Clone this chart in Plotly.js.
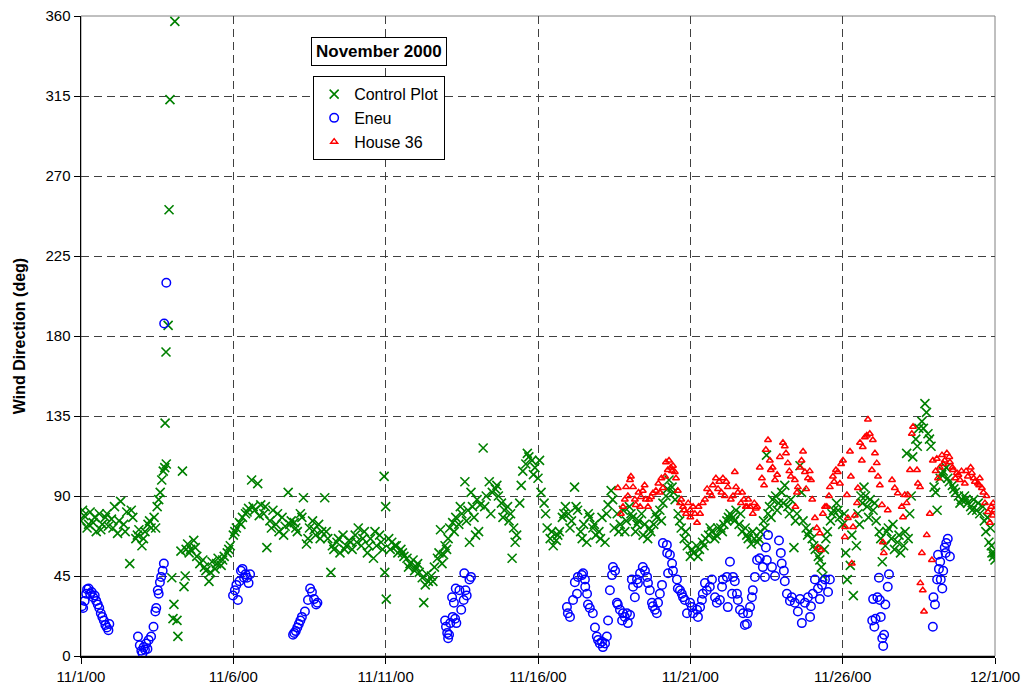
<!DOCTYPE html>
<html>
<head>
<meta charset="utf-8">
<script src="https://cdn.plot.ly/plotly-3.0.1.min.js"></script>
<style>
html,body{margin:0;padding:0;background:#fff;}
#chart{width:1029px;height:698px;}
</style>
</head>
<body>
<div id="chart"></div>
<script>
// Days since 11/1/00 00:00 and wind direction in degrees
var ctrlDay = [
0,0.1,0.2,0.3,0.4,0.5,0.6,0.7,0.8,0.9,
1,1.1,1.2,1.3,1.4,1.5,1.6,1.7,1.8,1.9,
2,2.1,2.2,2.3,2.4,2.5,2.6,2.65,2.7,2.8,
2.76,2.79,2.86,2.89,2.92,3.08,
2.98,3.02,3.05,3.15,3.18,3.28,3.33,3.38,3.42,
3.5,3.6,3.7,3.8,3.9,4,4.1,4.2,4.3,4.4,4.5,4.6,4.7,4.8,4.9,
3.55,3.75,4.05,4.25,4.45,4.65,4.85,
5,5.1,5.2,5.3,5.4,5.5,5.6,5.7,5.8,5.9,
6,6.1,6.2,6.3,6.4,6.5,6.6,6.7,6.8,6.9,
7,7.1,7.2,7.3,7.4,7.5,7.6,7.7,7.8,7.9,
8,8.1,8.2,8.3,8.4,8.5,8.6,8.7,8.8,8.9,
9,9.1,9.2,9.3,9.4,9.5,9.6,9.7,9.8,9.9,
9.95,9.97,10,10.02,
10.1,10.2,10.3,10.4,10.5,10.6,10.7,10.8,10.9,
11,11.1,11.2,11.25,11.3,11.4,11.5,11.6,11.7,11.8,11.85,11.9,
12,12.1,12.2,12.3,12.4,12.5,12.6,12.7,12.75,12.8,12.9,12.95,
13,13.1,13.2,13.3,13.4,13.5,13.6,13.7,13.8,13.9,
14,14.1,14.15,14.2,14.3,14.4,14.5,14.6,14.7,14.8,14.9,
15,15.1,15.2,15.3,15.4,15.5,15.6,15.7,15.8,15.9,
16,16.1,16.2,16.3,16.4,16.5,16.6,16.7,16.8,16.9,
17,17.1,17.2,17.3,17.4,17.5,17.6,17.7,17.8,17.9,
18,18.1,18.2,18.3,18.4,18.5,18.6,18.7,18.8,18.9,
19,19.1,19.2,19.3,19.4,19.5,19.6,19.7,19.8,19.9,
20,20.1,20.2,20.3,20.4,20.5,20.6,20.7,20.8,20.9,
21,21.1,21.2,21.3,21.4,21.5,21.6,21.7,21.8,21.9,
22,22.1,22.2,22.3,22.4,22.5,22.55,22.6,22.7,22.8,22.9,
23,23.1,23.2,23.3,23.4,23.5,23.6,23.7,23.8,23.9,
24,24.1,24.2,24.3,24.35,24.4,24.5,24.6,24.7,24.8,24.9,
25,25.1,25.15,25.25,25.3,25.35,25.45,25.5,25.6,25.7,25.8,25.9,
26,26.1,26.2,26.3,26.4,26.5,26.6,26.7,26.8,26.9,
27,27.1,27.15,27.2,27.3,27.4,27.5,27.6,27.7,27.75,27.8,27.9,
28,28.1,28.2,28.3,28.4,28.5,28.6,28.7,28.8,28.9,
29,29.1,29.2,29.3,29.4,29.5,29.6,29.7,29.75,29.8,29.85,29.9,29.95,29.97,30,
0.05,0.25,0.45,0.65,0.85,
1.05,1.25,1.45,1.65,1.85,
2.05,2.25,2.45,2.55,2.75,3.45,
5.05,5.25,5.45,5.65,5.85,
6.05,6.25,6.45,6.65,6.85,
7.05,7.25,7.45,7.65,7.85,
8.05,8.25,8.45,8.65,8.85,
9.05,9.25,9.45,9.65,9.85,
10.15,10.35,10.55,10.75,10.95,
11.05,11.35,11.55,11.75,11.95,
12.05,12.25,12.45,12.65,12.85,
13.05,13.25,13.45,13.65,13.85,
14.05,14.25,14.45,14.65,14.85,
15.05,15.25,15.45,15.65,15.85,
16.05,16.25,16.45,16.65,16.85,
17.05,17.25,17.45,17.65,17.85,
18.05,18.25,18.45,18.65,18.85,
19.05,19.25,19.45,19.65,19.85,
20.05,20.25,20.45,20.65,20.85,
21.05,21.25,21.45,21.65,21.85,
22.05,22.25,22.45,22.65,22.85,
23.05,23.25,23.45,23.65,23.85,
24.05,24.25,24.45,24.65,24.85,
25.05,25.55,25.65,25.75,25.85,
26.05,26.25,26.45,26.65,26.85,
27.05,27.25,27.45,27.65,27.85,
28.05,28.25,28.45,28.65,28.85,
29.05,29.25,29.45,29.65,29.88
];
var ctrlDeg = [
76,79,72,81,75,70,80,74,78,73,
77,84,69,87,74,81,52,78,66,71,
62,70,74,72,78,84,92,99,104,108,
131,171,186,251,313,357,
44,21,29,20,11,59,104,39,45,
63,60,65,56,52,54,48,42,53,49,55,51,56,58,62,
58,61,50,47,52,54,60,
68,72,75,78,80,83,99,82,97,85,
80,61,76,82,74,70,78,73,92,76,
75,70,80,89,63,72,76,68,74,70,
89,66,47,60,64,58,68,62,65,60,
68,72,62,70,58,66,55,62,68,60,
101,47,84,32,
66,64,62,58,60,56,55,52,54,
50,47,44,30,40,42,45,50,55,71,52,57,
60,72,75,78,74,80,98,82,64,92,78,68,
88,85,117,90,98,92,94,90,86,82,
84,80,55,72,68,86,104,108,112,110,106,
100,92,86,72,66,62,65,70,78,84,
80,76,95,82,70,74,64,78,72,68,
70,78,64,85,93,72,80,74,82,76,
84,78,70,76,80,74,66,70,74,78,
82,86,90,99,95,88,80,72,66,62,
56,58,62,60,64,66,68,70,66,72,
72,74,76,80,78,82,74,70,72,66,
63,66,64,70,76,113,80,84,88,90,86,
92,96,84,88,61,80,107,76,72,70,
66,60,56,50,45,60,70,76,82,86,78,
74,58,43,51,68,34,62,80,90,95,84,88,
82,76,70,53,62,72,66,60,64,58,
62,114,66,80,112,122,128,132,142,137,125,118,
95,82,100,104,106,98,96,92,90,88,
90,86,84,88,82,80,84,70,78,64,72,58,56,58,54,
82,74,78,71,80,
72,76,70,82,68,
66,76,72,88,106,60,
70,74,81,84,79,
84,72,80,68,74,
72,78,66,71,66,
70,62,66,60,64,
64,66,62,70,64,
60,62,58,50,48,
52,46,42,58,62,
66,70,84,76,84,
70,84,80,96,78,
76,64,96,114,102,
110,80,70,68,80,
72,84,66,80,74,
66,80,88,70,70,
80,74,68,72,80,
76,94,92,76,70,
60,56,62,72,68,
70,78,76,80,68,
70,66,72,78,82,
86,80,76,92,68,
62,54,66,80,82,
80,74,86,90,78,
86,66,70,74,68,
70,90,118,128,122,
92,102,100,94,86,
88,82,86,76,62
];

var eneuDay = [
0.03,0.07,0.12,0.17,0.2,0.25,0.3,0.35,0.4,0.45,0.5,0.55,0.6,0.65,0.7,0.75,0.8,0.85,0.9,0.93,
1.87,1.93,1.98,2.02,2.06,2.1,2.14,2.18,2.22,2.3,2.38,2.44,2.47,2.52,2.55,2.59,2.63,2.68,2.72,2.73,2.8,
4.99,5.05,5.1,5.15,5.2,5.25,5.3,5.35,5.4,5.45,5.5,5.55,
6.96,7,7.05,7.1,7.15,7.2,7.25,7.35,7.45,7.52,7.58,7.65,7.72,7.76,
11.95,11.98,12.02,12.05,12.08,12.12,12.2,12.28,12.32,12.18,12.24,12.3,12.42,12.48,12.56,12.62,12.66,12.58,12.75,12.8,
15.95,15.98,16.05,16.15,16.28,16.21,16.31,16.44,16.48,16.54,16.55,16.61,16.64,16.7,16.8,16.87,16.93,16.97,
17.03,17.1,17.13,17.2,17.26,17.3,17.36,17.43,17.46,17.53,17.59,17.62,17.69,17.76,17.79,17.85,17.92,17.95,
18.02,18.08,18.12,18.18,18.25,18.28,18.35,18.44,18.51,18.58,18.61,18.67,18.74,18.77,18.84,18.9,18.94,
19,19.07,19.1,19.23,19.24,19.33,19.4,19.27,19.43,19.56,19.59,19.66,19.72,19.76,19.82,19.89,19.99,
20.05,20.09,20.22,20.25,20.32,20.38,20.41,20.48,20.54,20.64,20.71,20.81,20.87,20.97,
21.04,21.07,21.2,21.23,21.3,21.37,21.4,21.46,21.53,21.56,21.63,21.73,21.79,21.86,21.89,21.96,
22.02,22.05,22.12,22.19,22.28,22.38,22.45,22.48,22.51,22.55,22.68,22.78,22.91,22.97,
23,23.07,23.1,23.17,23.27,23.33,23.43,23.53,23.6,23.66,23.76,23.86,23.93,23.96,
24.02,24.09,24.19,24.25,24.32,24.42,24.52,24.58,
25.97,26,26.04,26.08,26.14,26.19,26.22,26.25,26.3,26.33,26.36,26.4,26.48,26.52,
27.96,27.98,28.03,28.1,28.13,28.16,28.2,28.22,28.27,28.3,28.35,28.4,28.45,28.52,28.38
];
var eneuDeg = [
28,27,31,35,37.5,38,35,36,33,34,31,29,27,24,22,20,17.5,16,14.5,18,
11,6,3,1.5,5,3.5,7,4,9,11,16.5,25,27,37,35,41.5,44.5,48,52,187,210,
34,37,40,31.5,42,48,49,44,46,44,41,46,
12,13,14,16,18,20,22,25,31.5,38,36,32,29,30,
20,16.5,13,10,12,18.5,22,21,18.5,33,30,38,37,26,31.5,37,34,46.5,43,44.5,
27.5,24,22,31.5,35,41.5,44.5,45.5,46.5,43,39,35,29,27,24,16,11,9,
7,8,5,7,11,20,37,45.5,50,48,30,29,26,20,24,22,24,18.5,
23,43,39,33,43,41,46.5,50,48,44.5,41,37,30,28,26,24,30,
35,40,63.5,62.5,58,57,52,46.5,48,43,38,37,35,33,31.5,24,30,
27.5,24,26,22,27.5,31.5,35,41,37,39,43,33,30,31.5,
39,43,44.5,27.5,53,35,44.5,42,35,31.5,26,24,17.5,18,24,27.5,
33,37,44.5,54,55,50,44.5,61,54,68,50,45,65,58,
52,48,42,35,31,33,30,25,32,18.5,30,33,22,28,
35,43,38,32,40,43,36,43,
20,32,16.5,21,33,44,31.5,22,10,5.6,12,29,39,46,
16.5,33,29,43,57,49,53,43,38,48,61,63.5,66,56,58
];

var houseDay = [
17.62,17.72,17.79,17.85,17.89,18.02,18.05,18.12,18.18,18.21,18.35,18.38,18.44,18.54,18.61,18.71,18.77,18.87,
19,19.1,19.17,19.2,19.26,19.36,19.43,19.49,19.53,19.59,19.66,19.76,19.86,19.99,
20.09,20.22,20.32,20.41,20.48,20.64,20.74,20.84,20.91,
21.07,21.13,21.23,21.33,21.46,21.56,21.66,21.76,21.86,21.96,
22.05,22.15,22.19,22.28,22.42,22.55,22.61,22.64,22.78,22.94,
23.04,23.14,23.2,23.3,23.43,23.45,23.53,23.6,23.7,23.76,23.86,23.96,
24.09,24.19,24.25,24.29,24.35,24.42,24.48,24.58,24.68,24.78,24.84,24.91,
25.01,25.07,25.08,25.14,25.17,25.24,25.27,25.3,25.34,25.4,25.47,25.5,25.57,25.63,25.66,25.73,25.79,25.83,25.89,25.96,25.99,
26.06,26.12,26.16,26.22,26.29,26.32,26.35,26.48,26.62,26.71,26.81,26.94,26.98,
27.04,27.1,27.14,27.21,27.27,27.31,27.44,27.47,27.54,27.55,27.6,27.63,27.67,27.76,27.86,27.93,27.96,
28.09,28.13,28.19,28.26,28.3,28.42,28.5,28.52,28.62,28.7,28.75,28.85,28.9,
29.01,29.11,29.2,29.24,29.34,29.44,29.5,29.57,29.67,29.72,29.77,29.83,29.93,29.94,29.98,
17.95,18.3,18.5,18.65,18.95,19.05,19.3,19.4,19.7,19.8,19.93,
20,20.15,20.27,20.55,20.7,20.95,21.02,
21.18,21.4,21.5,21.7,21.82,21.9,
22.1,22.35,22.48,22.7,22.85,
23.1,23.25,23.5,23.65,23.8,23.92,
24,24.15,24.55,24.72,24.95,
28.05,28.35,28.6,28.8,29.05,29.3,29.48,29.62,29.88
];
var houseDeg = [
94.5,80,84,88,95,99,101,95,88,85,84,89.5,93,88,84,89.5,91.5,93,
92,94.5,101,109,104.6,106,107,103.5,100,93,86,84,80,82,
84,75,80,86,88,92,96,100,94,
100,90,95,88,103.5,92,86,88,84,84,
80,83,84,106,96,121.5,110,104.6,99,112,
120,114,108.5,101,99,84,95,106,115,103.5,100,99,
77.6,61,69,59.6,80,84,84,95,101,104.6,103.5,97,
110,67,72.6,90.6,77.6,115,101,52,72.6,79,86,94.5,120,110,117.6,123,124,133,125,104.6,121.5,
114,108.5,101,96,85,64,58,82,99,94.5,91.5,84,78,
90.6,86,90.6,104.6,125,129,104.6,97,95,41,58,37,25,68,80,54,110,
111,100,106,113,108,114,112,109,104.6,100,103,99,104,
97,101,106,103,98,97,100,94.5,86,90,81,75,79,86,82,
90,92,96,88,97,100,110,104,88,82,86,
78,80,84,94,90,98,92,
98,90,95,92,84,88,
86,100,116,106,102,
118,104,92,110,94,104,
88,72,90,98,108,
104,110,106,102,104,100,96,92,84
];

var xTickDays = [0,5,10,15,20,25,30];
var xTickLabels = ['11/1/00','11/6/00','11/11/00','11/16/00','11/21/00','11/26/00','12/1/00'];
var yTicks = [0,45,90,135,180,225,270,315,360];

var FONT = 'Liberation Sans, Arial, sans-serif';

var traces = [
  {
    type:'scatter', mode:'markers', name:'Control Plot',
    x: ctrlDay, y: ctrlDeg,
    marker:{symbol:'x-thin-open', size:9, color:'#008000', line:{color:'#008000', width:1.6}}
  },
  {
    type:'scatter', mode:'markers', name:'Eneu',
    x: eneuDay, y: eneuDeg,
    marker:{symbol:'circle-open', size:8.5, color:'#0000FF', line:{color:'#0000FF', width:1.5}}
  },
  {
    type:'scatter', mode:'markers', name:'House 36',
    x: houseDay, y: houseDeg,
    marker:{symbol:'triangle-up-open', size:6, color:'#FF0000', line:{color:'#FF0000', width:1.5}}
  }
];

var layout = {
  width:1029, height:698,
  margin:{l:81, r:34, t:16, b:42, pad:0},
  paper_bgcolor:'#fff', plot_bgcolor:'#fff',
  font:{family:FONT, size:15, color:'#000'},
  showlegend:true,
  legend:{
    x:0.254, y:0.906, xanchor:'left', yanchor:'top',
    bgcolor:'#fff', bordercolor:'#000', borderwidth:1,
    font:{family:FONT, size:16, color:'#000'},
    tracegroupgap:0
  },
  xaxis:{
    range:[0,30], tickmode:'array', tickvals:xTickDays, ticktext:xTickLabels,
    showgrid:true, gridcolor:'#404040', griddash:'8px,5px', gridwidth:1,
    showline:true, linecolor:'#000', linewidth:1.5,
    ticks:'outside', ticklen:6, tickcolor:'#000', tickwidth:1,
    zeroline:false, tickfont:{family:FONT, size:15, color:'#000'}
  },
  yaxis:{
    range:[0,360], tickmode:'array', tickvals:yTicks,
    showgrid:true, gridcolor:'#404040', griddash:'8px,5px', gridwidth:1,
    showline:true, linecolor:'#000', linewidth:1.5,
    ticks:'outside', ticklen:6, tickcolor:'#000', tickwidth:1,
    zeroline:false, tickfont:{family:FONT, size:15, color:'#000'},
    title:{text:'<b>Wind Direction (deg)</b>', font:{family:FONT, size:16, color:'#000'}, standoff:16}
  },
  shapes:[
    {type:'rect', xref:'paper', yref:'paper', x0:0, x1:1, y0:0, y1:1, line:{color:'#808080', width:1}, layer:'below'}
  ],
  annotations:[
    {text:'<b>November 2000</b>', xref:'paper', yref:'paper', x:0.326, y:0.944,
     xanchor:'center', yanchor:'middle', showarrow:false,
     bordercolor:'#000', borderwidth:1, borderpad:4, bgcolor:'#fff',
     font:{family:FONT, size:17, color:'#000'}}
  ]
};

Plotly.newPlot('chart', traces, layout, {displayModeBar:false, staticPlot:true});
</script>
</body>
</html>
